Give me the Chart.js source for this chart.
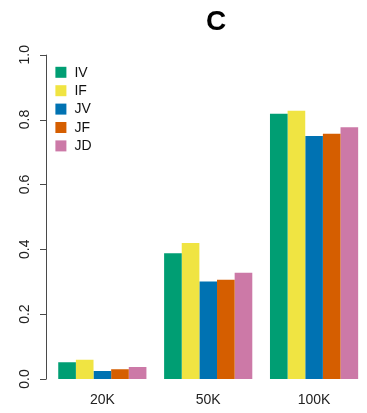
<!DOCTYPE html>
<html>
<head>
<meta charset="utf-8">
<script src="https://cdn.jsdelivr.net/npm/chart.js@4/dist/chart.umd.min.js"></script>
<style>
  html, body { margin: 0; padding: 0; background: #ffffff; }
  canvas { display: block; }
</style>
</head>
<body>
<canvas id="c" width="367" height="413"></canvas>
<script>
// Sample sizes along the x axis
const categories = ['20K', '50K', '100K'];

// One value per sample size for each method
const seriesNames = ['IV', 'IF', 'JV', 'JF', 'JD'];
const IV = [0.052, 0.388, 0.818];
const IF = [0.059, 0.419, 0.827];
const JV = [0.025, 0.301, 0.749];
const JF = [0.030, 0.306, 0.756];
const JD = [0.037, 0.328, 0.776];
const seriesColors = ['#009E73', '#F0E442', '#0072B2', '#D55E00', '#CC79A7'];

// Y axis tick values and their printed labels
const yTicks = [0, 0.2, 0.4, 0.6, 0.8, 1.0];
const yTickLabels = ['0.0', '0.2', '0.4', '0.6', '0.8', '1.0'];

const panelTitle = 'C';
const FONT = '"Liberation Sans", Arial, Helvetica, sans-serif';

const seriesValues = [IV, IF, JV, JF, JD];

// Y axis drawn by hand so the labels can run along the axis (rotated)
const baseAxisPlugin = {
  id: 'baseAxis',
  afterDraw(chart) {
    const ctx = chart.ctx;
    const y = chart.scales.y;
    const axisX = chart.chartArea.left - 3.5;
    ctx.save();
    ctx.strokeStyle = '#4a4a4a';
    ctx.lineWidth = 1;
    ctx.beginPath();
    const yTop = y.getPixelForValue(yTicks[yTicks.length - 1]);
    const yBot = y.getPixelForValue(yTicks[0]);
    ctx.moveTo(Math.round(axisX) + 0.5, yTop);
    ctx.lineTo(Math.round(axisX) + 0.5, yBot);
    yTicks.forEach(v => {
      const py = Math.round(y.getPixelForValue(v)) + 0.5;
      ctx.moveTo(Math.round(axisX) + 0.5, py);
      ctx.lineTo(Math.round(axisX) - 6, py);
    });
    ctx.stroke();

    ctx.fillStyle = '#222222';
    ctx.font = '14px ' + FONT;
    ctx.textAlign = 'center';
    ctx.textBaseline = 'middle';
    yTicks.forEach((v, i) => {
      const py = y.getPixelForValue(v);
      ctx.save();
      ctx.translate(axisX - 21, py);
      ctx.rotate(-Math.PI / 2);
      ctx.fillText(yTickLabels[i], 0, 0);
      ctx.restore();
    });

    // Panel letter
    ctx.fillStyle = '#000000';
    ctx.font = 'bold 28px ' + FONT;
    ctx.textAlign = 'center';
    ctx.textBaseline = 'alphabetic';
    ctx.fillText(panelTitle, 216, 29.5);

    // Legend in the upper-left of the plot
    const lx = chart.chartArea.left + 6;
    const ly0 = chart.chartArea.top + 17.6;
    ctx.font = '14px ' + FONT;
    ctx.textAlign = 'left';
    ctx.textBaseline = 'middle';
    chart.data.datasets.forEach((ds, i) => {
      const cy = ly0 + i * 18.4;
      ctx.fillStyle = ds.backgroundColor;
      ctx.fillRect(lx, cy - 5.5, 11, 11);
      ctx.fillStyle = '#111111';
      ctx.fillText(ds.label, lx + 19, cy + 0.5);
    });
    ctx.restore();
  }
};

new Chart(document.getElementById('c'), {
  type: 'bar',
  data: {
    labels: categories,
    datasets: seriesNames.map((name, i) => ({
      label: name,
      data: seriesValues[i],
      backgroundColor: seriesColors[i],
      borderWidth: 0,
      categoryPercentage: 0.833,
      barPercentage: 1.0
    }))
  },
  options: {
    responsive: false,
    animation: false,
    devicePixelRatio: 1,
    layout: { padding: { left: 49.4, right: 0, top: 54.7, bottom: 0 } },
    plugins: {
      legend: { display: false },
      title: { display: false },
      tooltip: { enabled: false }
    },
    scales: {
      x: {
        grid: { display: false, drawTicks: false },
        border: { display: false },
        afterFit(scale) { scale.height = 34; },
        ticks: {
          padding: 13,
          color: '#222222',
          font: { family: FONT, size: 14 }
        }
      },
      y: {
        display: false,
        min: 0,
        max: 1
      }
    }
  },
  plugins: [baseAxisPlugin]
});
</script>
</body>
</html>
